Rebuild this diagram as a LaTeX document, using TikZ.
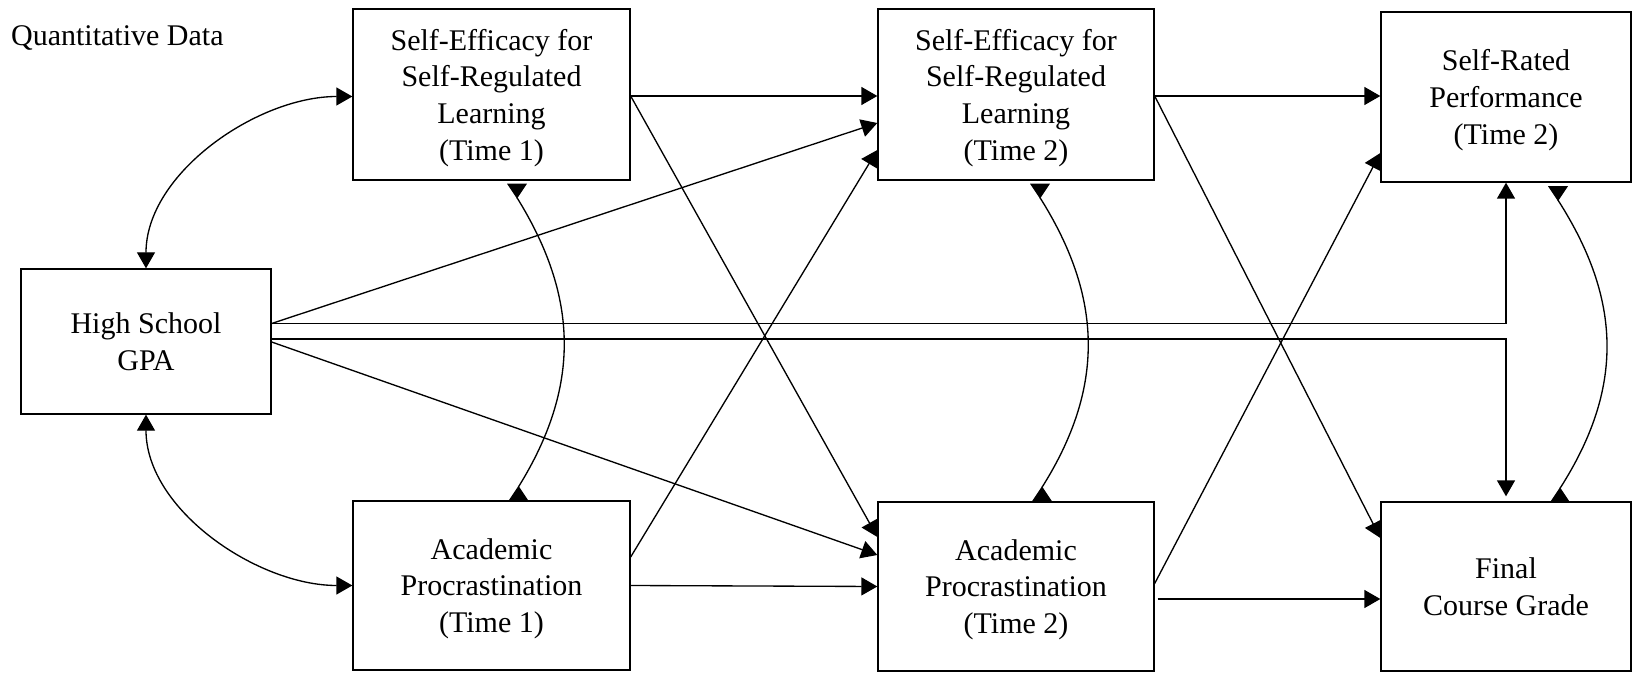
\documentclass[tikz,border=0pt]{standalone}
\usepackage{fontspec}
\setmainfont{Liberation Serif}
\usetikzlibrary{arrows.meta,calc}
\begin{document}
\begin{tikzpicture}[x=0.75pt,y=-0.75pt,
  line width=1pt,
  >={Triangle[length=12pt,width=13.5pt]},
  lbl/.style={font=\fontsize{22.5pt}{27.5pt}\selectfont},
  box/.style={lbl, draw, line width=1pt, align=center, inner sep=0pt, text depth=0pt},
  wide/.style={minimum width=207.75pt},
  narrow/.style={minimum width=187.5pt},
  pics/tipdown/.style={code={\fill (-10,0) -- (10,0) -- (0,15) -- cycle;}},
  pics/tipup/.style={code={\fill (-10,0) -- (10,0) -- (0,-15) -- cycle;}},
  link/.style={->},
  corr/.style={<->}]
\useasboundingbox (0,0) rectangle (1633,673);

% heading
\node[lbl, anchor=base west, inner sep=0pt] (title) at (10.5,45.7) {Quantitative Data};

% variables
\node[box, wide, minimum height=128.25pt] (se1) at (491.5,94.5)
  {Self-Efficacy for\\Self-Regulated\\Learning\\(Time 1)};
\node[box, minimum width=207pt, minimum height=128.25pt] (se2) at (1016,94.5)
  {Self-Efficacy for\\Self-Regulated\\Learning\\(Time 2)};
\node[box, narrow, minimum height=127.5pt] (srp) at (1506,97)
  {Self-Rated\\Performance\\(Time 2)};
\node[box, narrow, minimum height=108.75pt] (hs) at (146,341.5)
  {High School\\GPA};
\node[box, wide, minimum height=126.75pt] (ap1) at (491.5,585.5)
  {Academic\\Procrastination\\(Time 1)};
\node[box, minimum width=207pt, minimum height=126.75pt] (ap2) at (1016,586.5)
  {Academic\\Procrastination\\(Time 2)};
\node[box, narrow, minimum height=126.75pt] (fcg) at (1506,586.5)
  {Final\\Course Grade};

% correlations of high school GPA with the Time 1 measures
\draw[corr] (hs.north) .. controls +(0,-95) and +(-95,0) .. ($(se1.west)+(0,2)$);
\draw[corr] (hs.south) .. controls +(0,95) and +(-95,0) .. (ap1.west);

% paths from high school GPA
\draw[link] ($(hs.east)+(0,-18)$) -- ($(se2.west)+(0,28.5)$);
\draw[link] ($(hs.east)+(0,0.5)$) -- ($(ap2.west)+(0,-31.5)$);
\draw[link] ($(hs.east)+(0,-18)$) -| (srp.south);
\draw[link, shorten >=3.75pt] ($(hs.east)+(0,-2.5)$) -| (fcg.north);

% Time 1 to Time 2
\draw[link] ($(se1.east)+(0,1.5)$) -- ($(se2.west)+(0,1.5)$);
\draw[link] ($(se1.east)+(0,1.5)$) -- ($(ap2.west)+(0,-49.5)$);
\draw[link] ($(ap1.east)+(0,-28.5)$) -- ($(se2.west)+(0,55.5)$);
\draw[link] (ap1.east) -- (ap2.west);

% Time 2 to outcomes
\draw[link] ($(se2.east)+(0,1.5)$) -- ($(srp.west)+(0,-1)$);
\draw[link] ($(se2.east)+(0,1.5)$) -- ($(fcg.west)+(0,-48.5)$);
\draw[link] ($(ap2.east)+(0,-3)$) -- ($(srp.west)+(0,56)$);
\draw[link] ($(ap2.east)+(3,12.5)$) -- ($(fcg.west)+(0,12.5)$);

% within-time correlations
\coordinate (c1a) at ($(se1.south)+(25.5,3)$);
\coordinate (c1b) at ($(ap1.north)+(27,0.5)$);
\coordinate (c2a) at ($(se2.south)+(24,3)$);
\coordinate (c2b) at ($(ap2.north)+(26,0)$);
\coordinate (c3a) at ($(srp.south)+(52,3.5)$);
\coordinate (c3b) at ($(fcg.north)+(54,1)$);
\pic at (c1a) {tipdown};
\pic at (c1b) {tipup};
\pic at (c2a) {tipdown};
\pic at (c2b) {tipup};
\pic at (c3a) {tipdown};
\pic at (c3b) {tipup};
\draw ($(c1a)+(0,14)$) .. controls +(62,100) and +(62,-100) .. ($(c1b)+(0,-14)$);
\draw ($(c2a)+(0,14)$) .. controls +(63,100) and +(63,-100) .. ($(c2b)+(0,-14)$);
\draw ($(c3a)+(0,14)$) .. controls +(64,100) and +(64,-100) .. ($(c3b)+(0,-14)$);
\end{tikzpicture}
\end{document}
